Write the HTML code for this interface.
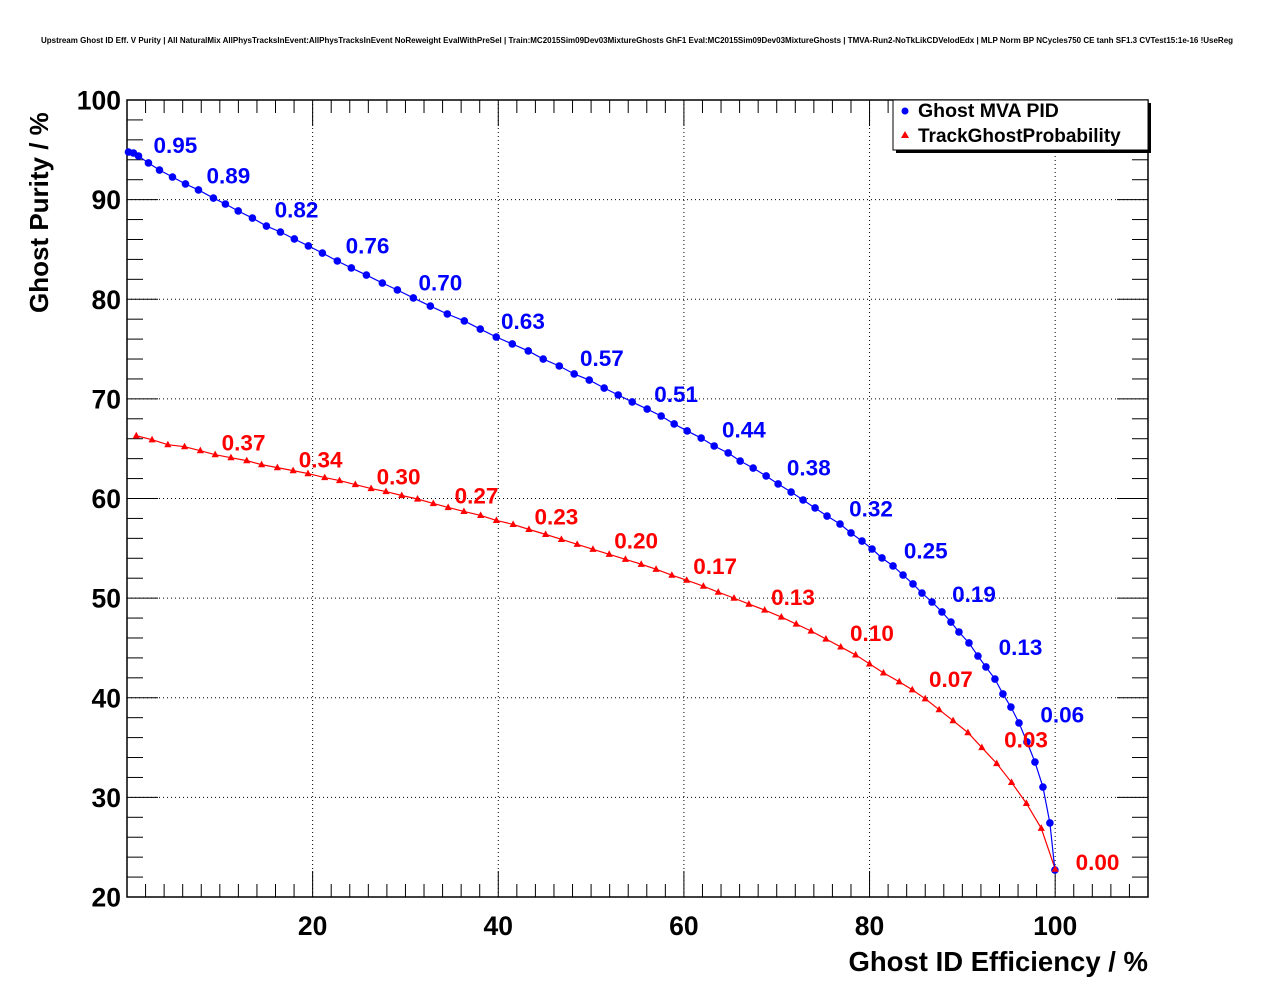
<!DOCTYPE html>
<html><head><meta charset="utf-8"><style>
html,body{margin:0;padding:0;background:#fff;}
svg{display:block;font-family:"Liberation Sans",sans-serif;font-weight:bold;}
</style></head><body>
<svg id="chart" width="1276" height="996" viewBox="0 0 1276 996" xmlns="http://www.w3.org/2000/svg">
<rect width="1276" height="996" fill="#fff"/>
<text x="637" y="43" font-size="8" text-anchor="middle">Upstream Ghost ID Eff. V Purity | All NaturalMix AllPhysTracksInEvent:AllPhysTracksInEvent NoReweight EvalWithPreSel | Train:MC2015Sim09Dev03MixtureGhosts GhF1 Eval:MC2015Sim09Dev03MixtureGhosts | TMVA-Run2-NoTkLikCDVelodEdx | MLP Norm BP NCycles750 CE tanh SF1.3 CVTest15:1e-16 !UseReg</text>
<g id="grid"></g>
<g id="axes"></g>
<g id="series"></g>
<g id="labels"></g>
<text x="1148" y="971" font-size="27.5" text-anchor="end">Ghost ID Efficiency / %</text>
<text transform="translate(48,313) rotate(-90)" font-size="26" text-anchor="start">Ghost Purity / %</text>
<g>
<rect x="896" y="103" width="255" height="50" fill="#000"/>
<rect x="893" y="100" width="255" height="50" fill="#fff" stroke="#000" stroke-width="1"/>
<circle cx="905" cy="111" r="3.5" fill="#00f"/>
<text x="918" y="117" font-size="19.5">Ghost MVA PID</text>
<polygon points="905,131 901,138 909,138" fill="#f00"/>
<text x="918" y="142" font-size="19">TrackGhostProbability</text>
</g>
</svg>
<script>
const mvaX=[0.16,0.70,1.24,2.31,3.50,4.90,6.30,7.70,9.31,10.60,11.98,13.51,15.02,16.53,18.03,19.54,21.05,22.66,24.17,25.79,27.51,29.13,30.85,32.68,34.51,36.34,38.06,39.78,41.51,43.23,44.84,46.57,48.18,49.80,51.41,52.92,54.43,56.04,57.55,58.95,60.35,61.86,63.26,64.77,66.06,67.46,68.86,70.15,71.55,72.84,74.13,75.42,76.82,78.00,79.19,80.27,81.34,82.53,83.61,84.68,85.65,86.73,87.80,88.77,89.63,90.71,91.68,92.54,93.51,94.37,95.23,96.10,96.96,97.82,98.68,99.43,99.97];
const mvaY=[94.78,94.68,94.38,93.68,92.97,92.27,91.57,90.97,90.16,89.56,88.86,88.15,87.35,86.75,86.05,85.35,84.64,83.84,83.14,82.43,81.63,80.93,80.13,79.32,78.52,77.82,77.01,76.21,75.51,74.81,74.00,73.30,72.50,71.89,71.09,70.39,69.69,68.98,68.28,67.48,66.78,66.07,65.27,64.57,63.76,63.06,62.26,61.46,60.65,59.85,59.05,58.24,57.44,56.54,55.73,54.93,54.03,53.23,52.32,51.42,50.51,49.61,48.61,47.60,46.60,45.50,44.19,43.09,41.88,40.38,39.07,37.47,35.56,33.55,31.04,27.43,22.71];
const tgpX=[1.0,2.7,4.4,6.2,7.9,9.5,11.2,12.9,14.5,16.2,17.9,19.5,21.3,22.9,24.6,26.3,27.9,29.6,31.3,33.0,34.6,36.3,38.1,39.8,41.6,43.3,45.1,46.8,48.5,50.2,51.95,53.7,55.4,57.0,58.7,60.3,62.1,63.7,65.4,67.0,68.7,70.5,72.1,73.7,75.3,76.9,78.5,80.0,81.5,83.2,84.6,86.0,87.5,89.0,90.6,92.1,93.7,95.3,96.9,98.5,100.0];
const tgpY=[66.3,65.9,65.4,65.2,64.8,64.4,64.1,63.8,63.4,63.1,62.8,62.5,62.1,61.8,61.4,61.0,60.7,60.3,59.95,59.5,59.1,58.7,58.3,57.8,57.4,56.9,56.4,55.9,55.4,54.9,54.4,53.9,53.4,52.9,52.3,51.8,51.2,50.6,50.0,49.4,48.8,48.1,47.4,46.7,45.9,45.1,44.3,43.4,42.5,41.6,40.8,39.9,38.8,37.7,36.5,35.0,33.4,31.5,29.4,26.9,22.8];
const mvaLabelText=["0.95","0.89","0.82","0.76","0.70","0.63","0.57","0.51","0.44","0.38","0.32","0.25","0.19","0.13","0.06"];
const mvaLabelX=[2.85,8.56,15.9,23.55,31.4,40.3,48.8,56.8,64.1,71.1,77.8,83.7,88.9,93.9,98.4];
const mvaLabelY=[94.7,91.6,88.2,84.6,80.9,77.0,73.3,69.7,66.1,62.3,58.2,54.0,49.6,44.3,37.5];
const tgpLabelText=["0.37","0.34","0.30","0.27","0.23","0.20","0.17","0.13","0.10","0.07","0.03","0.00"];
const tgpLabelX=[10.2,18.5,26.9,35.3,43.9,52.5,61.0,69.4,77.9,86.4,94.5,102.2];
const tgpLabelY=[64.8,63.1,61.4,59.5,57.4,55.0,52.4,49.3,45.7,41.1,35.0,22.7];
const xTicks=[20,40,60,80,100];
const yTicks=[20,30,40,50,60,70,80,90,100];

const NS="http://www.w3.org/2000/svg";
const L=127,R=1148,T=100,B=897,XMIN=0,XMAX=110,YMIN=20,YMAX=100;
const sx=v=>L+(v-XMIN)/(XMAX-XMIN)*(R-L);
const sy=v=>B-(v-YMIN)/(YMAX-YMIN)*(B-T);
function mk(tag,attrs,parent){const e=document.createElementNS(NS,tag);for(const k in attrs)e.setAttribute(k,attrs[k]);parent.appendChild(e);return e;}
const grid=document.getElementById('grid'),axes=document.getElementById('axes'),ser=document.getElementById('series'),lab=document.getElementById('labels');
xTicks.forEach(v=>{if(v<XMAX){const l=mk('line',{x1:sx(v),x2:sx(v),y1:T,y2:B,stroke:'#000','stroke-width':1,'stroke-dasharray':'1,3'},grid);

}});
yTicks.forEach(v=>{if(v>YMIN&&v<YMAX){const l=mk('line',{x1:L,x2:R,y1:sy(v),y2:sy(v),stroke:'#000','stroke-width':1,'stroke-dasharray':'1,3'},grid);

}});
const fr=mk('rect',{x:L,y:T,width:R-L,height:B-T,fill:'none',stroke:'#000','stroke-width':1.5},axes);


for(let v=2;v<XMAX;v+=2){const maj=v%20===0;const len=maj?26:13;
mk('line',{x1:sx(v),x2:sx(v),y1:B,y2:B-len,stroke:'#000','stroke-width':1},axes);
mk('line',{x1:sx(v),x2:sx(v),y1:T,y2:T+len,stroke:'#000','stroke-width':1},axes);}
for(let v=22;v<YMAX;v+=2){const maj=v%10===0;const len=maj?31:16;
mk('line',{x1:L,x2:L+len,y1:sy(v),y2:sy(v),stroke:'#000','stroke-width':1},axes);
mk('line',{x1:R,x2:R-len,y1:sy(v),y2:sy(v),stroke:'#000','stroke-width':1},axes);}
xTicks.forEach(v=>{const t=mk('text',{x:sx(v),y:935,'font-size':26.5,'text-anchor':'middle'},axes);t.textContent=v;

});
yTicks.forEach(v=>{const t=mk('text',{x:121,y:sy(v)+9.5,'font-size':26.5,'text-anchor':'end'},axes);t.textContent=v;

});
function line(xs,ys,col,name){const p=mk('polyline',{points:xs.map((x,i)=>sx(x)+','+sy(ys[i])).join(' '),fill:'none',stroke:col,'stroke-width':1.2},ser);

}
line(tgpX,tgpY,'#f00','tgp-line');
line(mvaX,mvaY,'#00f','mva-line');
mvaX.forEach((x,i)=>{const c=mk('circle',{cx:sx(x),cy:sy(mvaY[i]),r:3.8,fill:'#00f'},ser);

});
tgpX.forEach((x,i)=>{const X=sx(x),Y=sy(tgpY[i]);const p=mk('polygon',{points:`${X},${Y-4} ${X-3.6},${Y+2.6} ${X+3.6},${Y+2.6}`,fill:'#f00'},ser);

});
mvaLabelText.forEach((s,i)=>{const t=mk('text',{x:sx(mvaLabelX[i]),y:sy(mvaLabelY[i]),'font-size':22.5,fill:'#00f'},lab);t.textContent=s;

});
tgpLabelText.forEach((s,i)=>{const t=mk('text',{x:sx(tgpLabelX[i]),y:sy(tgpLabelY[i]),'font-size':22.5,fill:'#f00'},lab);t.textContent=s;

});
</script>
</body></html>
